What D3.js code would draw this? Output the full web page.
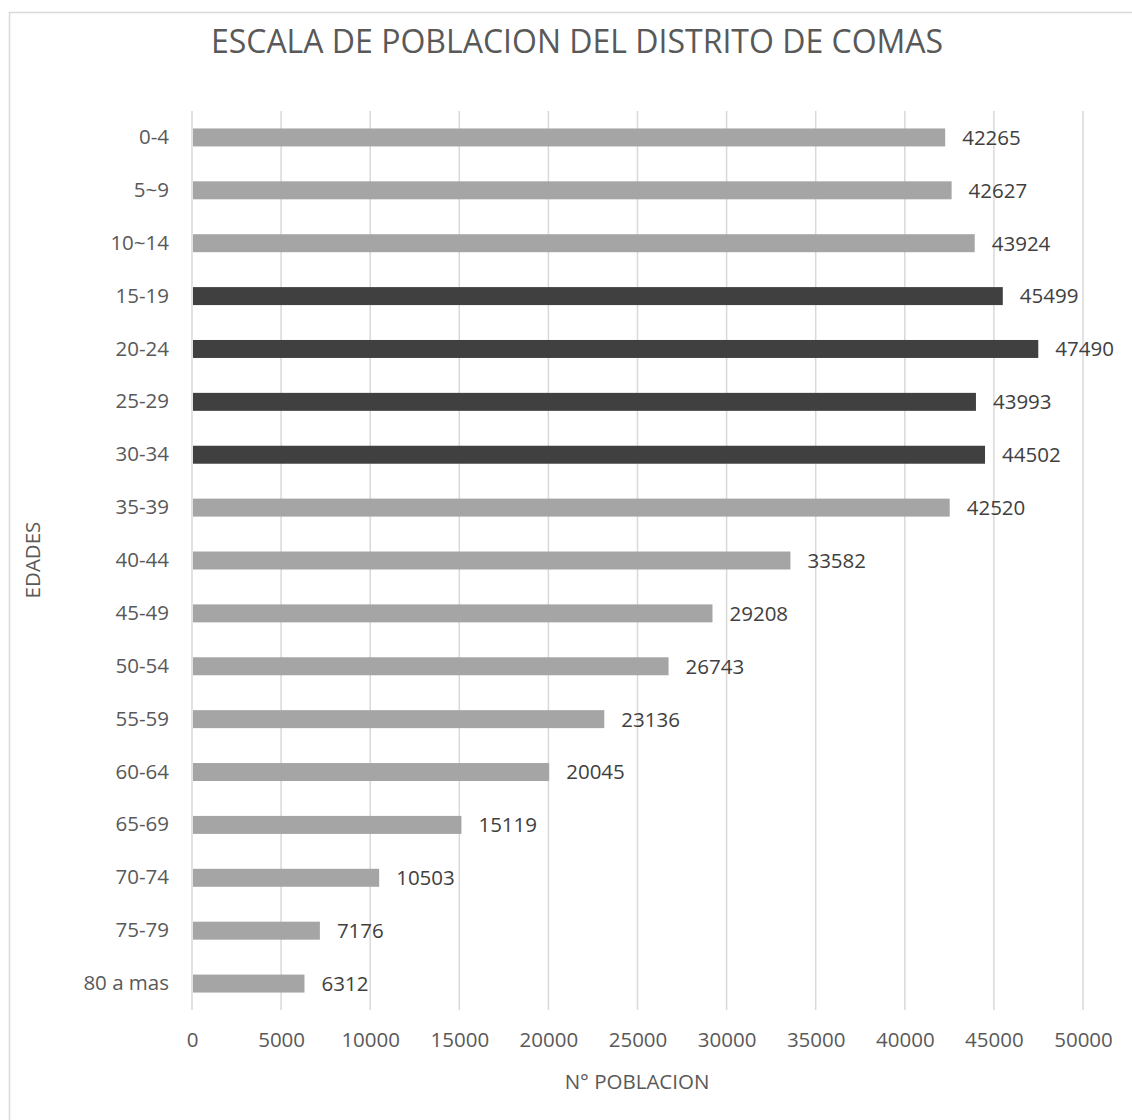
<!DOCTYPE html>
<html><head><meta charset="utf-8">
<script src="https://cdn.jsdelivr.net/npm/d3@7"></script>
<style>body{margin:0;background:#fff}text{font-family:"Open Sans",sans-serif}</style>
</head><body><svg id="c" width="1132" height="1120"></svg>
<script>
const categories = ["0-4","5~9","10~14","15-19","20-24","25-29","30-34","35-39","40-44","45-49","50-54","55-59","60-64","65-69","70-74","75-79","80 a mas"];
const values = [42265,42627,43924,45499,47490,43993,44502,42520,33582,29208,26743,23136,20045,15119,10503,7176,6312];
const highlighted = ["15-19","20-24","25-29","30-34"];
const xTicks = [0,5000,10000,15000,20000,25000,30000,35000,40000,45000,50000];
const title = "ESCALA DE POBLACION DEL DISTRITO DE COMAS";
const xTitle = "N° POBLACION";
const yTitle = "EDADES";

const svg = d3.select("#c");
const txt = "#595959";
svg.append("rect").attr("x",9.5).attr("y",12.5).attr("width",1130).attr("height",1120)
  .attr("fill","#fff").attr("stroke","#d9d9d9").attr("stroke-width",1.5);

const x = d3.scaleLinear().domain([0,50000]).range([192,1083]);
const y = d3.scaleBand().domain(categories).range([111,1010]).paddingInner(0.66).paddingOuter(0.33);

svg.append("g").selectAll("line").data(xTicks).join("line")
  .attr("x1",d=>x(d)).attr("x2",d=>x(d)).attr("y1",111).attr("y2",1010)
  .attr("stroke","#d9d9d9").attr("stroke-width",1.5);

const xAxis = svg.append("g").attr("transform","translate(0,1010)")
  .call(d3.axisBottom(x).tickValues(xTicks).tickSize(0).tickPadding(22).tickFormat(d3.format("d")));
xAxis.select(".domain").remove();
xAxis.selectAll("text").attr("fill",txt).style("font-size","20.5px").style("font-family","'Open Sans',sans-serif");

const yAxis = svg.append("g").attr("transform","translate(192,0)")
  .call(d3.axisLeft(y).tickSize(0).tickPadding(23));
yAxis.select(".domain").remove();
yAxis.selectAll("text").attr("fill",txt).style("font-size","20.5px").style("font-family","'Open Sans',sans-serif");

svg.append("g").selectAll("rect").data(categories).join("rect")
  .attr("x",x(0)+1).attr("y",d=>y(d)).attr("height",y.bandwidth())
  .attr("width",(d,i)=>x(values[i])-x(0)-1)
  .attr("fill",d=>highlighted.includes(d)?"#404040":"#a5a5a5");

svg.append("g").selectAll("text").data(categories).join("text")
  .attr("x",(d,i)=>x(values[i])+17).attr("y",d=>y(d)+y.bandwidth()/2).attr("dy","0.36em")
  .attr("fill","#404040").style("font-size","20.5px").text((d,i)=>values[i]);

svg.append("text").attr("x",577).attr("y",53).attr("text-anchor","middle")
  .attr("fill",txt).style("font-size","32px").text(title);
svg.append("text").attr("x",637).attr("y",1089).attr("text-anchor","middle")
  .attr("fill",txt).style("font-size","20.5px").text(xTitle);
svg.append("text").attr("transform","translate(40,560) rotate(-90)").attr("text-anchor","middle")
  .attr("fill",txt).style("font-size","20.5px").text(yTitle);
</script></body></html>
